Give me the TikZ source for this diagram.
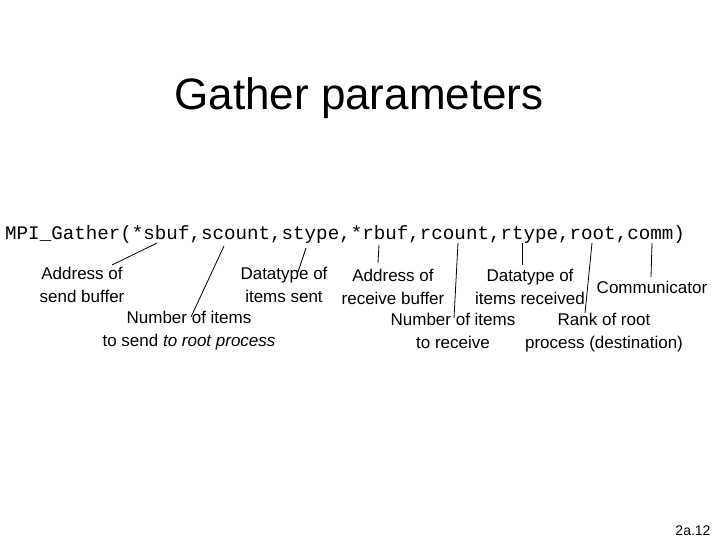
\documentclass[tikz,border=0pt]{standalone}
\usepackage{fontspec}
\setmainfont{Liberation Sans}
\newfontfamily\codefont{Liberation Mono}
\begin{document}
\begin{tikzpicture}[x=1pt,y=-1pt,
  lbl/.style={font=\fontsize{17}{23}\selectfont, align=center, inner sep=0pt, anchor=base},
  conn/.style={line width=0.8pt}]
\useasboundingbox[fill=white] (0,0) rectangle (720,540);
\node[inner sep=0pt, anchor=base, font=\fontsize{44}{50}\selectfont] (title) at (359,110) {Gather parameters};
\node[inner sep=0pt, anchor=base west, font=\codefont\fontsize{19.2}{22}\selectfont] (code) at (5,240) {MPI\_Gather(*sbuf,scount,stype,*rbuf,rcount,rtype,root,comm)};
% labels (base anchor = baseline of last line)
\node[lbl] (sb) at (82,302) {Address of\\send buffer};
\node[lbl] (st) at (284,302) {Datatype of\\items sent};
\node[lbl] (rb) at (393,304) {Address of\\receive buffer};
\node[lbl] (rt) at (530,304) {Datatype of\\items received};
\node[lbl] (cm) at (652,293) {Communicator};
\node[lbl] (sc) at (189,346) {Number of items\\to send \textit{to root process}};
\node[lbl] (rc) at (453,348) {Number of items\\to receive};
\node[lbl] (rk) at (604,348) {Rank of root\\process (destination)};
\node[inner sep=0pt, anchor=base, font=\fontsize{14}{16}\selectfont] (pg) at (693,535) {2a.12};
% connector ends
\coordinate (c1) at (157,243); \coordinate (e1) at (112,265);
\coordinate (c2) at (224,246); \coordinate (e2) at (191,317);
\coordinate (c3) at (306,248); \coordinate (e3) at (298,272);
\coordinate (c4) at (379,245); \coordinate (e4) at (378,263);
\coordinate (c5) at (458,243); \coordinate (e5) at (454,318);
\coordinate (c6) at (522,243); \coordinate (e6) at (522,265);
\coordinate (c7) at (592,243); \coordinate (e7) at (585,313);
\coordinate (c8) at (652,243); \coordinate (e8) at (651,277);
\foreach \i in {1,...,8} \draw[conn] (c\i) -- (e\i);
\end{tikzpicture}
\end{document}
